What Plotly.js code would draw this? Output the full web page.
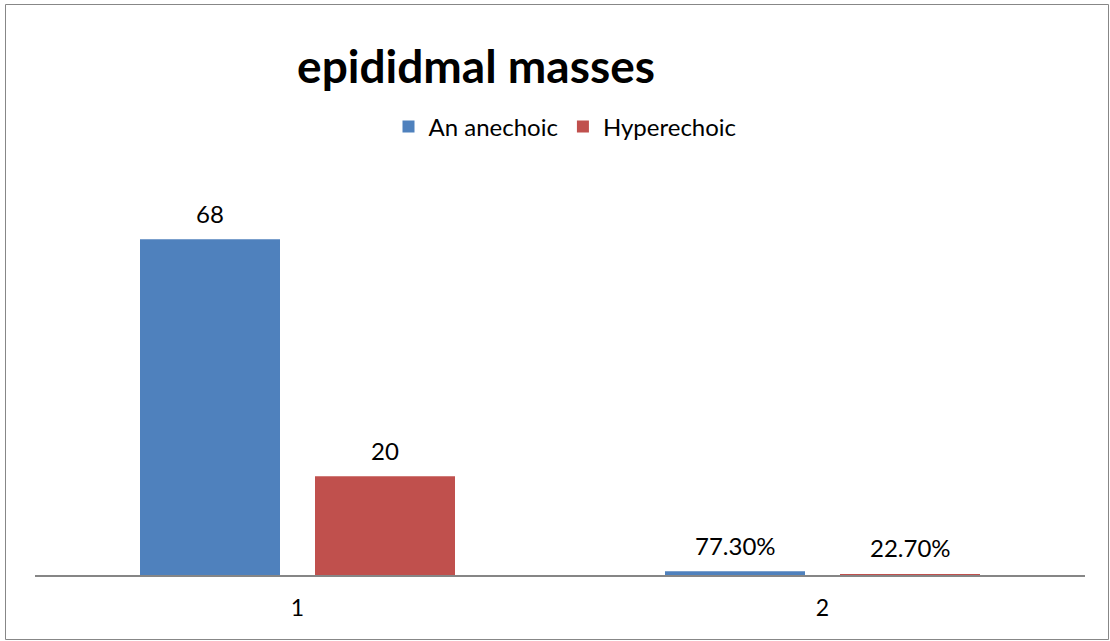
<!DOCTYPE html>
<html>
<head>
<meta charset="utf-8">
<script src="https://cdn.plot.ly/plotly-3.0.1.min.js"></script>
<style>html,body{margin:0;padding:0;background:#fff}#chart{width:1110px;height:641px}</style>
</head>
<body>
<div id="chart"></div>
<script>
var categories = ['1', '2'];
var anechoicValues = [68, 0.773];
var hyperechoicValues = [20, 0.227];
var anechoicLabels = ['68', '77.30%'];
var hyperechoicLabels = ['20', '22.70%'];
var seriesNames = ['An anechoic', 'Hyperechoic'];
var chartTitle = 'epididmal masses';

var W = 1110, H = 641;
var M = {l: 35, r: 25, t: 180, b: 66};
var plotW = W - M.l - M.r, plotH = H - M.t - M.b;
var FONT = 'Lato, "Open Sans", sans-serif';
var bargap = 1/3, bargroupgap = 0.2;
var slot = (1 - bargap) / 2;

var traces = [
  {type: 'bar', name: seriesNames[0], x: categories, y: anechoicValues,
   marker: {color: '#4F81BD'}, hoverinfo: 'none'},
  {type: 'bar', name: seriesNames[1], x: categories, y: hyperechoicValues,
   marker: {color: '#C0504D'}, hoverinfo: 'none'}
];

var annotations = [];
[[anechoicValues, anechoicLabels, -slot/2], [hyperechoicValues, hyperechoicLabels, slot/2]].forEach(function (s) {
  s[0].forEach(function (v, i) {
    annotations.push({x: i + s[2], y: v, xref: 'x', yref: 'y', text: s[1][i],
      showarrow: false, yanchor: 'middle', yshift: 26,
      font: {family: FONT, size: 24, color: '#000'}});
  });
});

function px2x(p) { return (p - M.l) / plotW; }
function px2y(p) { return (H - M.b - p) / plotH; }

var layout = {
  width: W, height: H,
  margin: M,
  paper_bgcolor: '#fff', plot_bgcolor: '#fff',
  barmode: 'group', bargap: bargap, bargroupgap: bargroupgap,
  showlegend: true,
  title: {text: '<b>' + chartTitle + '</b>', xref: 'container', yref: 'container',
    x: 476 / W, xanchor: 'center', y: 1 - 67 / H, yanchor: 'middle',
    font: {family: FONT, size: 46, color: '#000'}},
  legend: {orientation: 'h', x: px2x(565), xanchor: 'center', y: px2y(127), yanchor: 'middle',
    font: {family: FONT, size: 24, color: '#000'}, itemwidth: 30, traceorder: 'normal'},
  xaxis: {type: 'category', showline: true, linecolor: '#868686', linewidth: 1.5,
    showgrid: false, zeroline: false, ticks: '', ticklabelstandoff: 12,
    tickfont: {family: FONT, size: 23, color: '#000'}, fixedrange: true},
  yaxis: {range: [0, 80], visible: false, showgrid: false, zeroline: false, fixedrange: true},
  annotations: annotations,
  shapes: [{type: 'rect', xref: 'paper', yref: 'paper',
    x0: px2x(5.5), x1: px2x(1108.5), y0: px2y(639.5), y1: px2y(4.5),
    line: {color: '#878787', width: 1}, fillcolor: 'rgba(0,0,0,0)', layer: 'below'}]
};

Plotly.newPlot('chart', traces, layout, {displayModeBar: false, staticPlot: true});
</script>
</body>
</html>
